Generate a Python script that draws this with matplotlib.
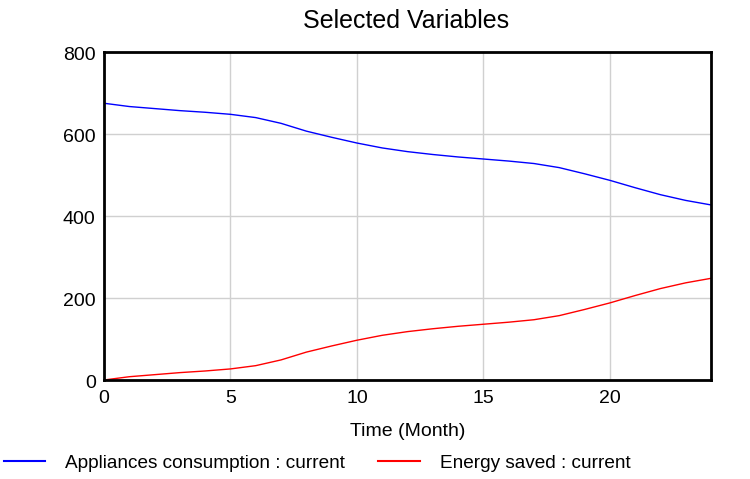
import matplotlib
matplotlib.use("Agg")
import matplotlib.pyplot as plt
from matplotlib.lines import Line2D
import matplotlib.transforms as mtransforms

plt.rcParams['font.family'] = ['Liberation Sans', 'DejaVu Sans']

months = list(range(25))
appliances = [675, 667, 662, 657, 653, 648, 640, 626, 607, 592, 578, 566, 557,
              550, 544, 539, 534, 528, 518, 503, 487, 469, 452, 438, 427]
energy_saved = [0, 8, 13, 18, 22, 27, 35, 49, 68, 83, 97, 109, 118,
                125, 131, 136, 141, 147, 157, 172, 188, 206, 223, 237, 248]
series_labels = ["Appliances consumption : current", "Energy saved : current"]
x_ticks = [0, 5, 10, 15, 20]
y_ticks = [0, 200, 400, 600, 800]

fig = plt.figure(figsize=(7.5, 4.79), dpi=100)
ax = fig.add_axes([104/750, 1 - 380/479, (711-104)/750, (380-52)/479])

ax.plot(months, appliances, color='#0000ff', lw=1.0)
ax.plot(months, energy_saved, color='#ff0000', lw=1.0)

ax.set_xlim(0, 24)
ax.set_ylim(0, 800)
ax.set_xticks(x_ticks)
ax.set_yticks(y_ticks)
ax.tick_params(axis='x', length=0, labelsize=14, pad=7)
ax.tick_params(axis='y', length=0, labelsize=14, pad=6)
offset = mtransforms.ScaledTranslation(0, -2/100, fig.dpi_scale_trans)
for lab in ax.get_yticklabels():
    lab.set_transform(lab.get_transform() + offset)
ax.grid(True, color='#d0d0d0', lw=1.0)
ax.set_axisbelow(True)
for s in ax.spines.values():
    s.set_linewidth(2.0)
    s.set_color('black')

fig.text(408/750, 1 - 432/479, "Time (Month)", ha='center', va='center', fontsize=14)
fig.text(406/750, 1 - 21/479, "Selected Variables", ha='center', va='center', fontsize=18)

# legend
ly = 1 - 461/479
ty = 1 - 463/479
fig.add_artist(Line2D([4/750, 45/750], [ly, ly], color='#0000ff', lw=1.5))
fig.text(65/750, ty, series_labels[0], ha='left', va='center', fontsize=13.7)
fig.add_artist(Line2D([378/750, 420/750], [ly, ly], color='#ff0000', lw=1.5))
fig.text(440/750, ty, series_labels[1], ha='left', va='center', fontsize=13.7)

fig.savefig("out.png", dpi=100)
